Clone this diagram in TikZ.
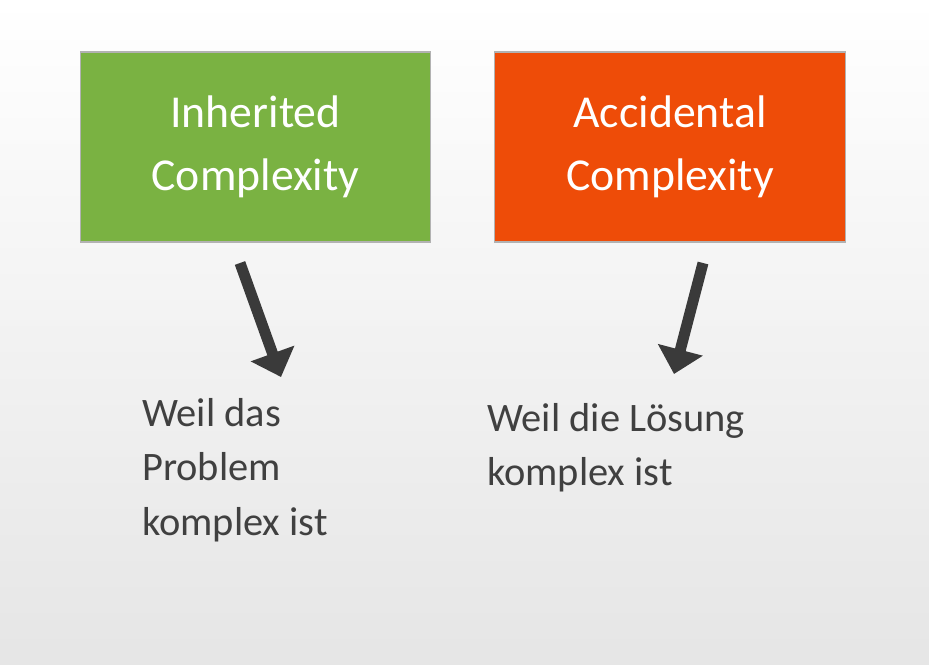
\documentclass[tikz,border=0pt]{standalone}
\usepackage{fontspec}
\setmainfont{Carlito}
\usetikzlibrary{arrows.meta}
\definecolor{boxgreen}{RGB}{122,178,66}
\definecolor{boxorange}{RGB}{238,76,8}
\definecolor{txtgray}{RGB}{64,64,64}
\definecolor{arrgray}{RGB}{58,58,58}
\tikzset{
  kind/.style={draw=black!30, line width=.6pt, minimum width=7.02cm, minimum height=3.8cm, text=white, align=center, font=\fontsize{26}{36}\selectfont},
  why/.style={anchor=north west, text=txtgray, align=left, inner sep=0pt, font=\fontsize{23}{31}\selectfont},
  cause/.style={line width=2.2mm, draw=arrgray, -{Triangle[length=5mm,width=9mm]}}
}
\begin{document}
\begin{tikzpicture}[x=0.02cm,y=-0.02cm]
\shade[top color=white, bottom color=black!10] (0,0) rectangle (929,665);
\useasboundingbox (0,0) rectangle (929,665);
\node[kind, fill=boxgreen] (inh) at (255.5,147) {Inherited\\Complexity};
\node[kind, fill=boxorange] (acc) at (670,147) {Accidental\\Complexity};
\node[why] (wp) at (142,398) {Weil das\\Problem\\komplex ist};
\node[why] (wl) at (487,403) {Weil die Lösung\\komplex ist};
\coordinate (a1) at (240,263);
\coordinate (b1) at (281,377);
\coordinate (a2) at (703,263);
\coordinate (b2) at (674,374);
\draw[cause] (a1) -- (b1);
\draw[cause] (a2) -- (b2);
\end{tikzpicture}
\end{document}
